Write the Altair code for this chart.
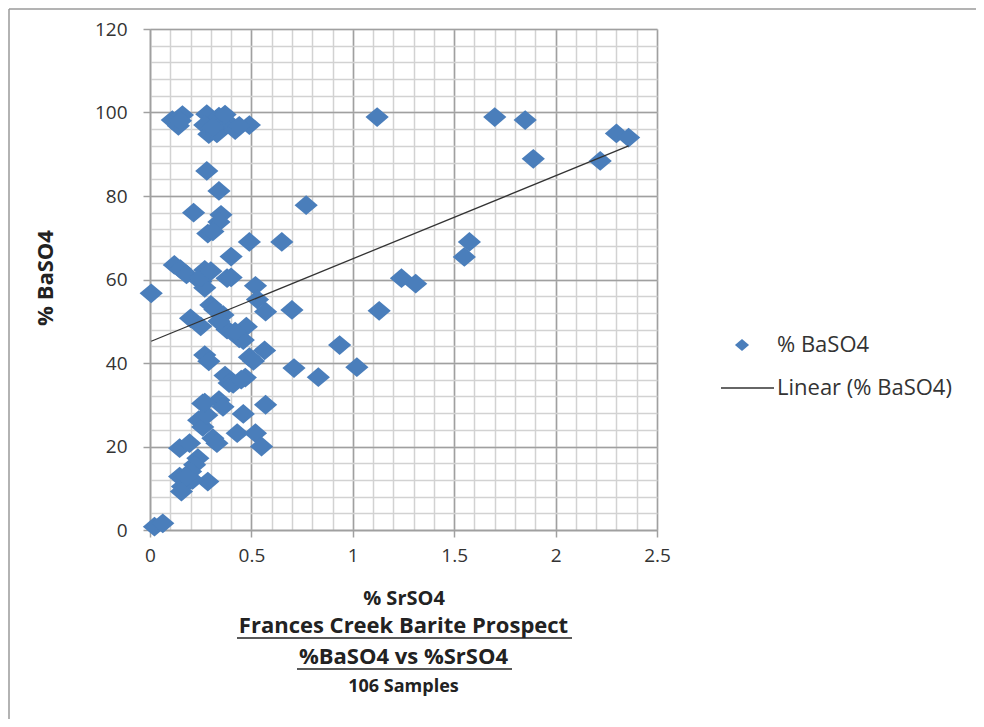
import altair as alt
import pandas as pd

# % SrSO4 (x) and % BaSO4 (y)
srso4 = [0.11, 0.16, 0.14, 0.15, 0.28, 0.27, 0.29, 0.34, 0.35, 0.33, 0.39, 0.42, 0.49, 0.37, 0.31, 0.44,
         0.28, 0.34, 0.215, 0.35, 0.34, 0.77, 0.285, 0.31, 0.49, 0.65, 0.40,
         0.12, 0.15, 0.18, 0.27, 0.25, 0.27, 0.38, 0.40, 0.006, 0.52, 0.53, 0.57, 0.70, 0.20, 0.25,
         0.30, 0.32, 0.36, 0.38, 0.44, 0.475, 0.46, 0.27, 0.29, 0.49, 0.565, 0.51, 0.37, 0.47, 0.39,
         0.41, 0.71, 0.83, 0.935, 1.02, 1.13, 1.24, 1.31, 1.55, 1.575, 1.12, 1.70, 1.85, 1.89, 2.22,
         2.30, 2.36,
         0.26, 0.34, 0.36, 0.24, 0.26, 0.31, 0.33, 0.146, 0.195, 0.236, 0.22, 0.146, 0.16, 0.155,
         0.285, 0.21, 0.46, 0.57, 0.43, 0.52, 0.55, 0.022, 0.063,
         0.28, 0.27, 0.20, 0.45, 0.25, 0.34, 0.42, 0.30, 0.18]
baso4 = [98.2, 99.4, 96.8, 98.0, 99.6, 97.0, 94.8, 99.0, 97.0, 95.0, 97.4, 95.8, 97.0, 99.5, 96.5, 96.8,
         86.0, 81.2, 76.0, 75.5, 73.8, 77.8, 71.0, 71.5, 69.0, 69.0, 65.5,
         63.5, 62.5, 61.2, 62.3, 59.5, 58.0, 60.3, 60.5, 56.7, 58.5, 55.2, 52.3, 52.7, 50.7, 48.8,
         53.9, 52.8, 51.5, 48.0, 45.9, 48.7, 45.5, 41.9, 40.4, 41.4, 43.0, 40.5, 37.0, 36.5, 35.2,
         35.0, 38.8, 36.6, 44.3, 39.0, 52.5, 60.3, 59.0, 65.4, 69.0, 98.9, 98.9, 98.2, 88.9, 88.4,
         95.0, 94.0,
         30.3, 31.1, 29.5, 26.3, 24.7, 22.0, 20.8, 19.6, 20.8, 17.2, 15.6, 12.8, 10.4, 9.2,
         11.6, 12.0, 27.8, 30.0, 23.2, 23.2, 20.0, 0.8, 1.6,
         27.5, 30.5, 14.0, 36.0, 60.5, 50.0, 47.5, 62.0, 12.8]

x_major = [0, 0.5, 1, 1.5, 2, 2.5]
x_minor = [round(i * 0.1, 1) for i in range(26)]
y_major = [0, 20, 40, 60, 80, 100, 120]
y_minor = list(range(0, 121, 4))

series_name = "% BaSO4"
trend_name = "Linear (% BaSO4)"
x_title = "% SrSO4"
caption = ["Frances Creek Barite Prospect", "%BaSO4 vs %SrSO4", "106 Samples"]

df = pd.DataFrame({"x": srso4, "y": baso4})

FONT = "Open Sans"
BLUE = "#4A7EBB"
TXT = "#333333"
W, H = 507, 501

xs = alt.Scale(domain=[0, 2.5], nice=False, zero=False)
ys = alt.Scale(domain=[0, 120], nice=False, zero=False)

base = alt.Chart(df)

minor = base.mark_point(opacity=0).encode(
    x=alt.X("x:Q", scale=xs, axis=alt.Axis(values=x_minor, grid=True, gridColor="#d2d2d2", gridWidth=1.5,
                                            labels=False, ticks=False, domain=False, title=None, orient="bottom")),
    y=alt.Y("y:Q", scale=ys, axis=alt.Axis(values=y_minor, grid=True, gridColor="#d2d2d2", gridWidth=1.5,
                                            labels=False, ticks=False, domain=False, title=None, orient="left")),
)

major = base.mark_point(opacity=0).encode(
    x=alt.X("x:Q", scale=xs, axis=alt.Axis(
        values=x_major, grid=True, gridColor="#a0a0a0", gridWidth=1.5, orient="bottom",
        domainColor="#a0a0a0", domainWidth=1.5, tickColor="#a0a0a0", tickWidth=1.5, tickSize=7,
        labelFont=FONT, labelFontSize=19, labelColor=TXT, labelPadding=9, labelFlush=False,
        format="~g",
        title=x_title, titleFont=FONT, titleFontSize=20, titleFontWeight="bold", titleColor="#222222",
        titleX=W / 2, titleY=68, titleAlign="center", titleBaseline="middle")),
    y=alt.Y("y:Q", scale=ys, axis=alt.Axis(
        values=y_major, grid=True, gridColor="#a0a0a0", gridWidth=1.5, orient="left",
        domainColor="#a0a0a0", domainWidth=1.5, tickColor="#a0a0a0", tickWidth=1.5, tickSize=7,
        labelFont=FONT, labelFontSize=19, labelColor=TXT, labelPadding=16, labelFlush=False,
        title=series_name, titleFont=FONT, titleFontSize=22, titleFontWeight="bold", titleColor="#222222",
        titleX=-105, titleY=H / 2 - 2, titleAngle=270, titleAlign="center", titleBaseline="middle")),
)

DIAMOND = "M-1,0L0,-0.85L1,0L0,0.85Z"

points = base.mark_point(shape=DIAMOND, filled=True, color=BLUE, opacity=1, size=540).encode(
    x=alt.X("x:Q", scale=xs, axis=None),
    y=alt.Y("y:Q", scale=ys, axis=None),
)

trend = base.transform_regression("x", "y").mark_line(color="#333333", strokeWidth=1.3).encode(
    x=alt.X("x:Q", scale=xs, axis=None),
    y=alt.Y("y:Q", scale=ys, axis=None),
)

# legend (drawn to mimic the spreadsheet legend)
leg_pt = alt.Chart(pd.DataFrame({"t": [series_name]})).mark_point(
    shape=DIAMOND, filled=True, color=BLUE, opacity=1, size=200).encode(
    x=alt.value(592), y=alt.value(316))
leg_t1 = alt.Chart(pd.DataFrame({"t": [series_name]})).mark_text(
    align="left", baseline="middle", font=FONT, fontSize=22, color=TXT).encode(
    x=alt.value(627), y=alt.value(316), text="t:N")
leg_line = alt.Chart(pd.DataFrame({"t": [trend_name]})).mark_rule(color="#333333", strokeWidth=1.3).encode(
    x=alt.value(571), x2=alt.value(624), y=alt.value(359))
leg_t2 = alt.Chart(pd.DataFrame({"t": [trend_name]})).mark_text(
    align="left", baseline="middle", font=FONT, fontSize=22, color=TXT).encode(
    x=alt.value(627), y=alt.value(359), text="t:N")

# caption lines under the x-axis title
cap1 = alt.Chart(pd.DataFrame({"t": [caption[0]]})).mark_text(
    align="center", baseline="middle", font=FONT, fontSize=22, fontWeight="bold", color="#222222").encode(
    x=alt.value(W / 2), y=alt.value(597), text="t:N")
cap2 = alt.Chart(pd.DataFrame({"t": [caption[1]]})).mark_text(
    align="center", baseline="middle", font=FONT, fontSize=22, fontWeight="bold", color="#222222").encode(
    x=alt.value(W / 2), y=alt.value(628), text="t:N")
cap3 = alt.Chart(pd.DataFrame({"t": [caption[2]]})).mark_text(
    align="center", baseline="middle", font=FONT, fontSize=18, fontWeight="bold", color="#222222").encode(
    x=alt.value(W / 2), y=alt.value(658), text="t:N")

# underlines for the two middle caption lines
ul1 = alt.Chart(pd.DataFrame({"t": [caption[0]]})).mark_rule(color="#222222", strokeWidth=1.5).encode(
    x=alt.value(87), x2=alt.value(422), y=alt.value(609))
ul2 = alt.Chart(pd.DataFrame({"t": [caption[1]]})).mark_rule(color="#222222", strokeWidth=1.5).encode(
    x=alt.value(147), x2=alt.value(362), y=alt.value(640))

# outer frame of the chart area
frame_top = alt.Chart(pd.DataFrame({"t": ["f"]})).mark_rule(color="#9a9a9a", strokeWidth=1.5).encode(
    x=alt.value(-141), x2=alt.value(W + 319), y=alt.value(-20))
frame_left = alt.Chart(pd.DataFrame({"t": ["f"]})).mark_rule(color="#9a9a9a", strokeWidth=1.5).encode(
    x=alt.value(-141), y=alt.value(-20), y2=alt.value(H + 189))

chart = alt.layer(minor, major, points, trend, leg_pt, leg_t1, leg_line, leg_t2,
                  cap1, cap2, cap3, ul1, ul2, frame_top, frame_left).resolve_axis(
    x="independent", y="independent"
).properties(
    width=W, height=H,
    autosize=alt.AutoSizeParams(type="none"),
    padding={"left": 142, "top": 21, "right": 319, "bottom": 189},
).configure_view(stroke=None)

chart.save("out.html", embed_options={"renderer": "svg", "actions": False})
